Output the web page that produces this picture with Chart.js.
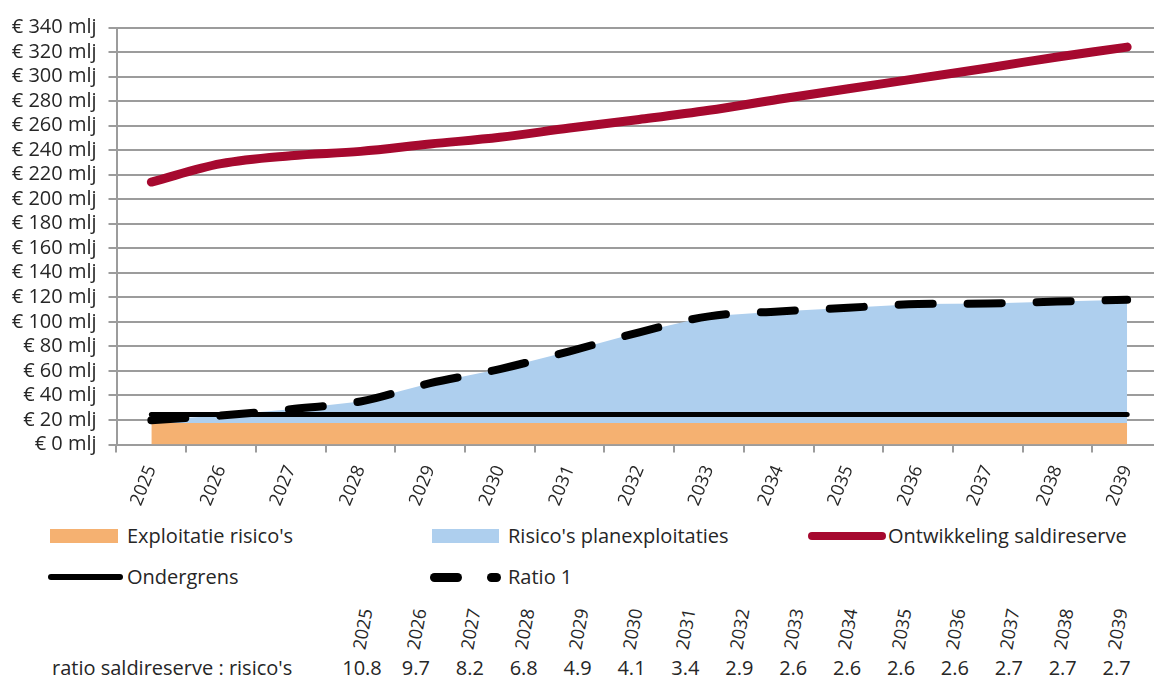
<!DOCTYPE html>
<html><head><meta charset="utf-8">
<script src="https://cdn.jsdelivr.net/npm/chart.js@4.4.1/dist/chart.umd.min.js"></script>
<style>
html,body{margin:0;padding:0;background:#fff;overflow:hidden;width:1154px;height:681px;}
#wrap{position:relative;width:1154px;height:681px;overflow:hidden;font-family:'Open Sans',sans-serif;color:#262626;}
canvas{position:absolute;left:0;top:0;}
.txt{position:absolute;font-size:20px;line-height:24px;white-space:nowrap;transform:translateY(-50%);}
.sw{position:absolute;}
.yr{position:absolute;font-size:18px;line-height:20px;white-space:nowrap;transform:translate(-50%,-50%) rotate(-80deg);}
.val{position:absolute;font-size:20px;line-height:24px;white-space:nowrap;transform:translate(-50%,-50%);}
</style></head>
<body><div id="wrap"><canvas id="c" width="1175" height="520"></canvas><div id="legend"></div><div id="table"></div></div>
<script>
// ---- data ----
const years = [2025, 2026, 2027, 2028, 2029, 2030, 2031, 2032, 2033, 2034, 2035, 2036, 2037, 2038, 2039];
const exploitatieRisicos = [17.5, 17.5, 17.5, 17.5, 17.5, 17.5, 17.5, 17.5, 17.5, 17.5, 17.5, 17.5, 17.5, 17.5, 17.5];
const risicosPlanexploitaties = [2.3, 6.1, 11.3, 17.6, 32.5, 44, 58.5, 74, 87, 91, 94, 97, 97.5, 99, 100.5];
const saldireserve = [214, 229, 235.5, 239, 245, 250.5, 258, 265, 272.5, 281.5, 290, 298.5, 307, 316, 324];
const ondergrens = [24.5, 24.5, 24.5, 24.5, 24.5, 24.5, 24.5, 24.5, 24.5, 24.5, 24.5, 24.5, 24.5, 24.5, 24.5];
const ratio1 = [19.8, 23.6, 28.8, 35.1, 50, 61.5, 76, 91.5, 104.5, 108.5, 111.5, 114.5, 115, 116.5, 118];
const ratioSaldireserveRisicos = [10.8, 9.7, 8.2, 6.8, 4.9, 4.1, 3.4, 2.9, 2.6, 2.6, 2.6, 2.6, 2.7, 2.7, 2.7];
const yTicks = { min: 0, max: 340, step: 20 };
const legendLabels = ["Exploitatie risico's", "Risico's planexploitaties", "Ontwikkeling saldireserve", "Ondergrens", "Ratio 1"];
const tableLabel = "ratio saldireserve : risico's";

// ---- styles ----
const ORANGE = '#F5B171', BLUE = '#AECFEE', RED = '#A6092F', BLACK = '#000000';
const GRID = '#9c9c9c', TXT = '#262626';
const FAM = "'Open Sans', sans-serif";
const CH = 520, PLOT_BOTTOM = 444.5, PLOT_LEFT = 116.5;

new Chart(document.getElementById('c'), {
  type: 'line',
  data: {
    labels: years.map(String),
    datasets: [
      { label: legendLabels[0], data: exploitatieRisicos, stack: 'risk', fill: 'origin', backgroundColor: ORANGE, borderWidth: 0, pointRadius: 0, order: 4, tension: 0 },
      { label: legendLabels[1], data: risicosPlanexploitaties, stack: 'risk', fill: '-1', backgroundColor: BLUE, borderWidth: 0, pointRadius: 0, order: 5, tension: 0 },
      { label: legendLabels[3], data: ondergrens, stack: 's1', fill: false, borderColor: BLACK, borderWidth: 5, borderCapStyle: 'round', pointRadius: 0, order: 3 },
      { label: legendLabels[4], data: ratio1, stack: 's2', fill: false, borderColor: BLACK, borderWidth: 8, borderDash: [34, 35], borderCapStyle: 'round', pointRadius: 0, tension: 0.35, order: 2 },
      { label: legendLabels[2], data: saldireserve, stack: 's3', fill: false, borderColor: RED, borderWidth: 9, borderCapStyle: 'round', pointRadius: 0, tension: 0.35, order: 1 }
    ]
  },
  options: {
    responsive: false, animation: false, devicePixelRatio: 1,
    layout: { padding: { top: 27.5, right: 13, bottom: 0, left: 0 } },
    plugins: { legend: { display: false }, tooltip: { enabled: false } },
    scales: {
      x: {
        offset: true,
        grid: { offset: true, drawOnChartArea: false, drawTicks: true, tickLength: 8, color: GRID, lineWidth: 2 },
        border: { display: false },
        ticks: { minRotation: 68, maxRotation: 68, padding: 10, autoSkip: false, color: TXT, font: { family: FAM, size: 18 } },
        afterFit: s => { s.height = CH - PLOT_BOTTOM; }
      },
      y: {
        stacked: true, min: yTicks.min, max: yTicks.max,
        ticks: { stepSize: yTicks.step, autoSkip: false, padding: 12, color: TXT, font: { family: FAM, size: 20 }, callback: v => '€ ' + v + ' mlj' },
        grid: { color: GRID, lineWidth: 2, tickLength: 8 },
        border: { display: true, color: GRID, width: 2 },
        afterFit: s => { s.width = PLOT_LEFT; }
      }
    }
  }
});

// ---- legend (HTML) ----
const lg = document.getElementById('legend');
function add(parent, cls, style, text) {
  const d = document.createElement('div'); d.className = cls; Object.assign(d.style, style);
  if (text !== undefined) d.textContent = text; parent.appendChild(d); return d;
}
const r1 = 536, r2 = 577;
add(lg, 'sw', { left: '50px', top: (r1 - 7) + 'px', width: '68px', height: '14px', background: ORANGE });
add(lg, 'txt', { left: '127px', top: r1 + 'px' }, legendLabels[0]);
add(lg, 'sw', { left: '432px', top: (r1 - 7) + 'px', width: '67px', height: '14px', background: BLUE });
add(lg, 'txt', { left: '508px', top: r1 + 'px' }, legendLabels[1]);
add(lg, 'sw', { left: '808px', top: (r1 - 4) + 'px', width: '78px', height: '8px', background: RED, borderRadius: '4px' });
add(lg, 'txt', { left: '888px', top: r1 + 'px' }, legendLabels[2]);
add(lg, 'sw', { left: '48px', top: (r2 - 3) + 'px', width: '75px', height: '6px', background: BLACK, borderRadius: '3px' });
add(lg, 'txt', { left: '127px', top: r2 + 'px' }, legendLabels[3]);
add(lg, 'sw', { left: '430px', top: (r2 - 4.5) + 'px', width: '32px', height: '9px', background: BLACK, borderRadius: '4.5px' });
add(lg, 'sw', { left: '487px', top: (r2 - 4.5) + 'px', width: '14px', height: '9px', background: BLACK, borderRadius: '4.5px' });
add(lg, 'txt', { left: '508px', top: r2 + 'px' }, legendLabels[4]);

// ---- table ----
const tb = document.getElementById('table');
const col0 = 362, colStep = 53.9, yearsY = 629, valsY = 668;
add(tb, 'txt', { left: '52px', top: valsY + 'px' }, tableLabel);
years.forEach((yr, i) => {
  const cx = col0 + i * colStep;
  add(tb, 'yr', { left: cx + 'px', top: yearsY + 'px' }, String(yr));
  add(tb, 'val', { left: cx + 'px', top: valsY + 'px' }, ratioSaldireserveRisicos[i].toFixed(1));
});
</script>
</body></html>
